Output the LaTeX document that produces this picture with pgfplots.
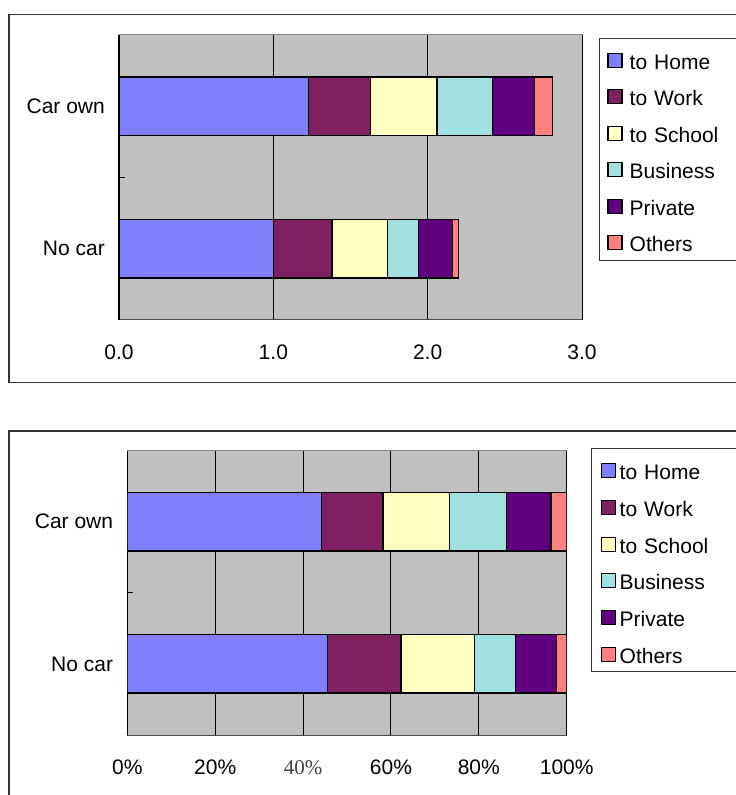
\documentclass[border=0pt]{standalone}
\usepackage{fontspec}
\setmainfont{Liberation Sans}
\newfontfamily\serifface{Liberation Serif}
\usepackage{pgfplots}
\pgfplotsset{compat=1.18}

\definecolor{cHome}{HTML}{8080FF}
\definecolor{cWork}{HTML}{802060}
\definecolor{cSchool}{HTML}{FFFFC0}
\definecolor{cBusiness}{HTML}{A0E0E0}
\definecolor{cPrivate}{HTML}{600080}
\definecolor{cOthers}{HTML}{FF8080}
\definecolor{plotgray}{HTML}{C0C0C0}

\pgfplotsset{
  trip/.style={fill=#1, draw=black, line width=1.3bp,
    legend image code/.code={\draw[fill=#1, draw=black, line width=1.2bp] (0bp,2bp) rectangle (14bp,16bp);}},
  tripchart/.style={
    scale only axis, xbar stacked, bar width=58.5bp,
    ymin=-0.5, ymax=1.5, ytick={0,0.5,1}, yticklabels={No car,{},Car own},
    axis background/.style={fill=plotgray, draw=black!50, line width=1bp},
    axis x line*=bottom, axis y line*=left,
    x axis line style={draw=black!70, line width=1bp},
    y axis line style={draw=black, line width=1.2bp},
    tick align=inside, major tick length=6bp,
    ytick style={draw=black, line width=1bp},
    xtick style={draw=none},
    xmajorgrids, major grid style={draw=black, line width=0.9bp},
    xticklabel style={inner sep=0pt, anchor=north, yshift=-25bp},
    yticklabel style={inner sep=0pt, anchor=east, xshift=-14bp},
    legend style={draw=black!80, line width=1bp, fill=white,
      inner ysep=8.5bp, row sep=14bp,
      cells={anchor=base west},
      nodes={inner sep=0pt, text height=22.5bp, text depth=0pt, text width=130bp, align=left}},
  }
}

\begin{document}
\begin{tikzpicture}[font=\fontsize{21bp}{25bp}\selectfont]
\useasboundingbox (0bp,0bp) rectangle (736bp,795bp);
\clip (0bp,0bp) rectangle (736bp,795bp);

% chart area frames
\draw[black!80, line width=1.3bp] (9bp,412.3bp) rectangle (760bp,780.3bp);
\draw[black!80, line width=1.3bp] (9bp,-20bp) rectangle (760bp,364bp);

% trips per person
\begin{axis}[tripchart,
  at={(119bp,475bp)}, anchor=south west, width=463bp, height=285bp,
  xmin=0, xmax=3, xtick={0,1,2,3}, xticklabels={0.0,1.0,2.0,3.0},
  legend style={at={(1.0367,0.9905)}, anchor=north west, inner xsep=8bp,
    /tikz/every odd column/.append style={column sep=7bp}}]
\addplot[trip=cHome]     coordinates {(1.00,0) (1.23,1)};
\addplot[trip=cWork]     coordinates {(0.38,0) (0.40,1)};
\addplot[trip=cSchool]   coordinates {(0.36,0) (0.43,1)};
\addplot[trip=cBusiness] coordinates {(0.20,0) (0.36,1)};
\addplot[trip=cPrivate]  coordinates {(0.22,0) (0.27,1)};
\addplot[trip=cOthers]   coordinates {(0.04,0) (0.12,1)};
\legend{to Home, to Work, to School, Business, Private, Others}
\end{axis}

% share of trips by purpose
\begin{axis}[tripchart,
  at={(127.3bp,60bp)}, anchor=south west, width=439.4bp, height=284.4bp,
  xmin=0, xmax=100, xtick={0,20,40,60,80,100},
  xticklabels={0\%,20\%,{\serifface\color{black!75}40\%},60\%,80\%,100\%},
  legend style={at={(1.0553,1.0081)}, anchor=north west, inner xsep=9bp,
    row sep=14.2bp,
    /tikz/every odd column/.append style={column sep=4bp}}]
\addplot[trip=cHome]     coordinates {(45.5,0) (44.2,1)};
\addplot[trip=cWork]     coordinates {(16.8,0) (14.0,1)};
\addplot[trip=cSchool]   coordinates {(16.7,0) (15.2,1)};
\addplot[trip=cBusiness] coordinates {(9.3,0) (12.9,1)};
\addplot[trip=cPrivate]  coordinates {(9.3,0) (10.1,1)};
\addplot[trip=cOthers]   coordinates {(2.4,0) (3.6,1)};
\legend{to Home, to Work, to School, Business, Private, Others}
\end{axis}
\end{tikzpicture}
\end{document}
